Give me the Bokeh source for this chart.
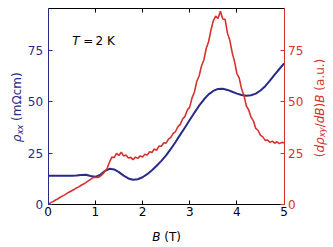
import math
from bokeh.plotting import figure
from bokeh.models import Range1d, LinearAxis, Label, FixedTicker
from bokeh.embed import file_html
from bokeh.resources import INLINE

# ---------------- data ----------------
B_rho = [0.0, 0.1, 0.2, 0.3, 0.4, 0.5, 0.6, 0.7, 0.8, 0.9,
         1.0, 1.1, 1.2, 1.3, 1.4, 1.5, 1.6, 1.7, 1.8, 1.9,
         2.0, 2.1, 2.2, 2.3, 2.4, 2.5, 2.6, 2.7, 2.8, 2.9,
         3.0, 3.1, 3.2, 3.3, 3.4, 3.5, 3.6, 3.7, 3.8, 3.9,
         4.0, 4.1, 4.2, 4.3, 4.4, 4.5, 4.6, 4.7, 4.8, 4.9, 5.0]
rho_xx = [13.9, 13.9, 13.9, 13.9, 13.9, 13.9, 14.0, 14.3, 14.4, 13.8,
          13.4, 14.3, 16.2, 17.3, 17.0, 15.7, 14.0, 12.6, 12.0, 12.2,
          13.2, 14.7, 16.6, 18.8, 21.2, 23.9, 27.0, 30.4, 34.0, 37.5,
          41.1, 44.7, 48.1, 51.1, 53.6, 55.3, 56.3, 56.4, 55.8, 54.9,
          54.0, 53.3, 53.0, 53.2, 54.0, 55.5, 57.6, 60.3, 63.3, 66.0, 68.7]

B_hall = [0.00, 0.05, 0.10, 0.15, 0.20, 0.25, 0.30, 0.35, 0.40, 0.45,
          0.50, 0.55, 0.60, 0.65, 0.70, 0.75, 0.80, 0.85, 0.90, 0.95,
          1.00, 1.05, 1.10, 1.15, 1.20, 1.25, 1.30, 1.35, 1.40, 1.45,
          1.50, 1.55, 1.60, 1.65, 1.70, 1.75, 1.80, 1.85, 1.90, 1.95,
          2.00, 2.05, 2.10, 2.15, 2.20, 2.25, 2.30, 2.35, 2.40, 2.45,
          2.50, 2.55, 2.60, 2.65, 2.70, 2.75, 2.80, 2.85, 2.90, 2.95,
          3.00, 3.05, 3.10, 3.15, 3.20, 3.25, 3.30, 3.35, 3.40, 3.45,
          3.50, 3.55, 3.60, 3.65, 3.70, 3.75, 3.80, 3.85, 3.90, 3.95,
          4.00, 4.05, 4.10, 4.15, 4.20, 4.25, 4.30, 4.35, 4.40, 4.45,
          4.50, 4.55, 4.60, 4.65, 4.70, 4.75, 4.80, 4.85, 4.90, 4.95, 5.00]
drho_xy_B = [0.0, 0.7, 1.3, 2.0, 2.6, 3.3, 4.0, 4.6, 5.3, 6.0,
             6.6, 7.2, 8.0, 8.5, 9.3, 9.9, 10.6, 11.4, 12.2, 13.0,
             13.2, 13.1, 13.6, 14.6, 16.0, 17.5, 20.5, 23.0, 22.8, 24.8,
             23.8, 25.4, 23.6, 24.0, 22.6, 22.9, 21.8, 23.0, 22.4, 23.6,
             23.1, 24.4, 24.0, 25.6, 25.3, 27.0, 26.4, 28.4, 28.3, 30.0,
             29.8, 31.8, 32.6, 34.6, 35.5, 37.9, 39.0, 41.6, 42.9, 46.0,
             47.4, 51.9, 54.8, 60.0, 62.6, 67.5, 70.4, 76.0, 79.3, 85.0,
             89.5, 91.8, 90.6, 94.2, 90.4, 90.2, 83.5, 80.0, 74.0, 69.6,
             63.8, 61.5, 56.2, 53.0, 48.0, 46.0, 42.5, 40.6, 37.0, 36.0,
             33.6, 32.9, 31.2, 31.4, 30.2, 30.8, 29.8, 30.5, 29.6, 30.2, 30.0]

x_ticks = [0, 1, 2, 3, 4, 5]
y_ticks = [0, 25, 50, 75]
X_LIM = (0, 5)
Y_LIM = (0, 95.5)

NAVY = "#272b86"
RED = "#d5322f"
FONT = "DejaVu Sans"
FS = "12px"
SUB = "8.4px"

# ---------------- geometry (pixels of the 333x247 picture) ----------------
W, H = 333, 247
PX_X0, PX_PER_X = 47.6, 47.2      # pixel of B=0, pixels per tesla
PX_Y0, PX_PER_Y = 203.8, 2.05     # pixel of value 0, pixels per unit


def dx(px):
    return (px - PX_X0) / PX_PER_X


def dy(py):
    return (PX_Y0 - py) / PX_PER_Y


p = figure(width=W, height=H, min_border=0,
           min_border_left=0, min_border_right=0,
           min_border_top=0, min_border_bottom=0,
           x_range=Range1d(dx(0), dx(W)), y_range=Range1d(dy(H), dy(0)),
           x_axis_location=None, y_axis_location=None,
           output_backend="svg", toolbar_location=None)
p.grid.visible = False
p.outline_line_color = None
p.background_fill_color = "white"
p.border_fill_color = "white"


def make_axis(loc, bounds, ticks, color, label_color, standoff):
    ax = LinearAxis(fixed_location=loc, bounds=bounds,
                    ticker=FixedTicker(ticks=ticks))
    ax.axis_line_color = color
    ax.axis_line_width = 1
    ax.major_tick_line_color = color
    ax.major_tick_in = 4
    ax.major_tick_out = 0
    ax.minor_tick_in = 0
    ax.minor_tick_out = 0
    ax.major_label_text_color = label_color
    ax.major_label_text_font = FONT
    ax.major_label_text_font_size = FS
    ax.major_label_standoff = standoff
    return ax


p.add_layout(make_axis(X_LIM[0], Y_LIM, y_ticks, NAVY, NAVY, 5), "left")
p.add_layout(make_axis(X_LIM[1], Y_LIM, y_ticks, RED, RED, 4), "right")
p.add_layout(make_axis(Y_LIM[0], X_LIM, x_ticks, "black", "black", 3), "below")
p.add_layout(make_axis(Y_LIM[1], X_LIM, x_ticks, "black", None, 0), "above")

p.line(B_rho, rho_xx, line_color=NAVY, line_width=2)
p.line(B_hall, drho_xy_B, line_color=RED, line_width=1.6)


# ---------------- text pieces ----------------
def piece(text, px, py, color, italic=False, size=FS, angle=0.0):
    p.add_layout(Label(x=dx(px), y=dy(py), text=text, text_color=color,
                       text_font=FONT, text_font_size=size,
                       text_font_style="italic" if italic else "normal",
                       text_align="left", text_baseline="alphabetic",
                       angle=angle))


# T = 2 K
piece("T", 71.7, 40.7, "black", italic=True)
piece("=", 82.7, 40.7, "black")
piece("2 K", 95.0, 40.7, "black")

# B (T)
piece("B", 151.7, 236.7, "black", italic=True)
piece("(T)", 163.7, 236.7, "black")

# left label: rho_xx (mOhm cm)
up = math.pi / 2
lx, ly = 16.7, 141.7
piece("\u03c1", lx, ly, NAVY, italic=True, angle=up)
piece("xx", lx + 2.5, ly - 7.6, NAVY, italic=True, size=SUB, angle=up)
piece("(m\u03a9cm)", lx, ly - 21.3, NAVY, angle=up)

# right label: (d rho_xy / dB) B (a.u.)
rx, ry = 319.0, 156.7
piece("(", rx, ry, RED, angle=up)
piece("d\u03c1", rx, ry - 4.7, RED, italic=True, angle=up)
piece("xy", rx + 2.5, ry - 19.9, RED, italic=True, size=SUB, angle=up)
piece("/", rx, ry - 29.9, RED, angle=up)
piece("dB", rx, ry - 33.9, RED, italic=True, angle=up)
piece(")", rx, ry - 49.7, RED, angle=up)
piece("B", rx, ry - 54.4, RED, italic=True, angle=up)
piece("(a.u.)", rx, ry - 66.5, RED, angle=up)

open("out.html", "w").write(file_html(p, INLINE))
